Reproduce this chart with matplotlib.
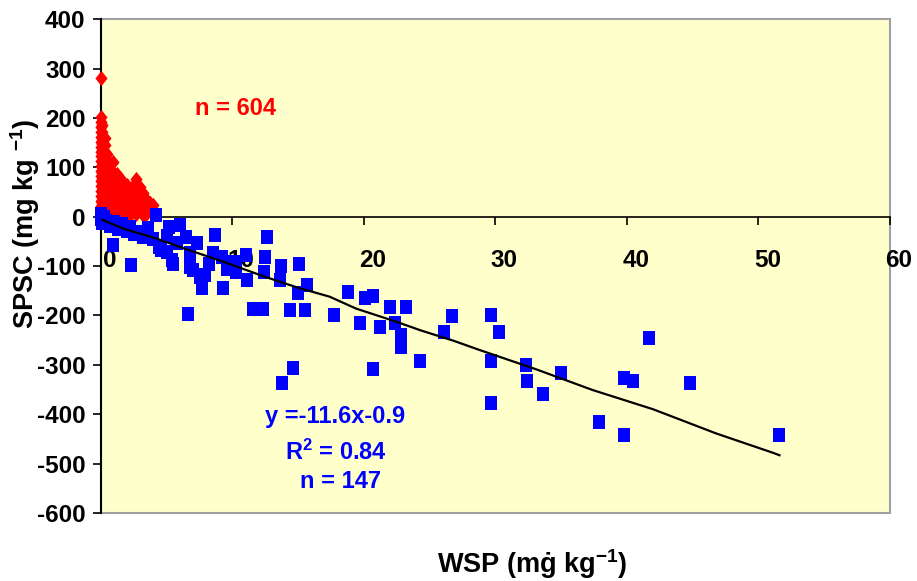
import matplotlib
matplotlib.use("Agg")
import matplotlib.pyplot as plt
import matplotlib.transforms as mtransforms
from matplotlib.patches import Rectangle

plt.rcParams["font.family"] = ["Liberation Sans", "DejaVu Sans"]
plt.rcParams["font.weight"] = "bold"
plt.rcParams["axes.unicode_minus"] = False
plt.rcParams["mathtext.fontset"] = "custom"
plt.rcParams["mathtext.rm"] = "Liberation Sans:bold"
plt.rcParams["mathtext.bf"] = "Liberation Sans:bold"
plt.rcParams["mathtext.it"] = "Liberation Sans:bold"
plt.rcParams["mathtext.default"] = "bf"

# soils with positive SPSC (red diamonds), grouped by WSP value
wsp_pos_cols = [0.0, 0.12, 0.3, 0.5, 0.72, 0.95, 1.2, 1.45, 1.7, 1.95,
                2.2, 2.45, 2.7, 2.95, 3.2, 3.45, 3.7, 3.95]
spsc_pos_cols = [
    [280, 202, 192, 182, 172, 162, 152, 142, 132, 122, 112, 102, 92, 82, 72, 62, 52, 42, 32, 22, 12, 3],
    [185, 172, 160, 148, 136, 124, 112, 100, 88, 76, 64, 52, 40, 28, 16, 5],
    [160, 146, 132, 118, 104, 90, 76, 62, 48, 34, 20, 6],
    [128, 114, 100, 86, 72, 58, 44, 30, 16, 4],
    [104, 90, 76, 62, 48, 34, 20, 6],
    [111, 90, 77, 64, 51, 38, 25, 12],
    [86, 73, 60, 47, 34, 21, 8],
    [78, 65, 52, 39, 26, 13, 3],
    [70, 56, 42, 28, 14, 4],
    [64, 48, 34, 20, 6],
    [44, 30, 16, 4],
    [62, 40, 26, 12],
    [76, 60, 34, 20, 6],
    [60, 46, 30, 16],
    [48, 30, 14, 3],
    [36, 20, 6],
    [28, 12],
    [24, 8],
]

# soils with negative SPSC (blue squares)
wsp_neg = [0.0, 0.0, 0.1, 0.2, 0.4, 0.7, 1.0, 1.3, 1.6, 2.0, 2.5, 2.2, 3.0, 3.2, 3.6,
           4.2, 4.0, 4.6, 5.2, 5.4, 5.0, 5.8, 6.0, 6.5, 6.8, 6.8, 7.3, 7.9, 7.7,
           8.7, 8.5, 9.3, 9.6, 6.6, 0.9, 2.3, 4.4, 5.0, 5.5, 7.0, 7.5, 8.2, 9.2,
           10.1, 10.3,
           10.3, 11.0, 11.1, 12.6, 12.5, 12.4, 11.6, 12.3, 13.7, 13.6, 15.1, 15.7,
           15.0, 14.4, 15.5, 14.6, 13.8, 17.7, 18.8, 20.1, 20.7, 19.7, 21.2, 22.0,
           23.2, 22.4, 22.8, 22.8, 20.7, 24.3,
           26.1, 26.7, 29.7, 30.3, 29.7, 29.7, 32.3, 32.4, 33.6, 35.0, 37.9, 39.8,
           40.5, 39.8, 41.7, 44.8, 51.6]
spsc_neg = [5, -5, -12, 0, -8, -18, -10, -24, -15, -28, -34, -20, -30, -41, -22,
            3, -45, -68, -20, -88, -40, -54, -17, -41, -74, -101, -54, -118, -145,
            -37, -74, -145, -105, -196, -57, -97, -61, -71, -95, -108, -122, -95, -81,
            -91, -111,
            -98, -78, -128, -41, -81, -111, -186, -186, -100, -128, -95, -138,
            -155, -189, -189, -307, -336, -199, -152, -165, -161, -216, -223, -182,
            -182, -215, -240, -263, -309, -292,
            -234, -202, -199, -234, -292, -378, -300, -333, -360, -317, -416, -327,
            -333, -443, -246, -337, -442]

# fitted regression line
fit_x = [0, 1.7, 4.2, 6.3, 9.3, 12.3, 14.9, 17.4, 19.4, 22.5, 24.3, 26.8, 28.7,
         33.1, 37.4, 42.0, 46.8, 51.1, 51.6]
fit_y = [-5, -24, -44, -64, -91, -120, -143, -162, -186, -213, -230, -251, -269,
         -309, -351, -390, -439, -478, -483]

x_ticks = [0, 10, 20, 30, 40, 50, 60]
y_ticks = [-600, -500, -400, -300, -200, -100, 0, 100, 200, 300, 400]

wsp_pos = [x for x, col in zip(wsp_pos_cols, spsc_pos_cols) for _ in col]
spsc_pos = [y for col in spsc_pos_cols for y in col]

fig = plt.figure(figsize=(9.17, 5.81), dpi=100)
ax = fig.add_axes([0.110, 0.117, 0.8605, 0.850])
ax.set_facecolor("#FFFFCC")

diamond = [(0, 0.5), (0.4, 0), (0, -0.5), (-0.4, 0)]
box = [(-0.4, -0.5), (0.4, -0.5), (0.4, 0.5), (-0.4, 0.5)]
ax.scatter(wsp_pos, spsc_pos, marker=diamond, s=120, color="#FF0000",
           linewidths=0, zorder=3, clip_on=False)
ax.scatter(wsp_neg, spsc_neg, marker=box, s=100, color="#0000FF",
           linewidths=0, zorder=4, clip_on=False)
ax.plot(fit_x, fit_y, color="black", lw=1.6, zorder=5)

ax.set_xlim(0, 60)
ax.set_ylim(-600, 400)
ax.set_xticks(x_ticks)
ax.set_yticks(y_ticks)

# x axis crosses at y = 0, plot area framed in grey
ax.spines["bottom"].set_position(("data", 0))
ax.spines["bottom"].set_color("black")
ax.spines["bottom"].set_linewidth(1.2)
ax.spines["left"].set_color("black")
ax.spines["left"].set_linewidth(1.5)
ax.spines["top"].set_visible(False)
ax.spines["right"].set_visible(False)
ax.add_patch(Rectangle((0, 0), 1, 1, transform=ax.transAxes, fill=False,
                       edgecolor="#A0A0A0", lw=1.5, zorder=0.5, clip_on=False))

ax.tick_params(axis="x", direction="out", length=6, width=1.2, pad=17,
               labelsize=17.5)
ax.tick_params(axis="y", direction="out", length=6, width=1.2, pad=5,
               labelsize=17.5)
shift = mtransforms.ScaledTranslation(9 / 100, 0, fig.dpi_scale_trans)
for lab in ax.get_xticklabels():
    lab.set_transform(lab.get_transform() + shift)

ax.text(10.2, 219, "n = 604", color="#FF0000", fontsize=17,
        ha="center", va="center")
ax.text(17.8, -405, "y =-11.6x-0.9", color="#0000FF", fontsize=17,
        ha="center", va="center")
ax.text(17.9, -478, r"R$^{2}$ = 0.84", color="#0000FF", fontsize=17,
        ha="center", va="center")
ax.text(18.2, -537, "n = 147", color="#0000FF", fontsize=17,
        ha="center", va="center")

fig.text(532 / 917, 1 - 573 / 581, r"WSP (mġ kg$^{-1}$)", fontsize=19.5,
         ha="center", va="baseline")
fig.text(25 / 917, 1 - 224 / 581, r"SPSC (mg kg $^{-1}$)", fontsize=19.5,
         rotation=90, ha="center", va="center")

fig.savefig("out.png", dpi=100)
